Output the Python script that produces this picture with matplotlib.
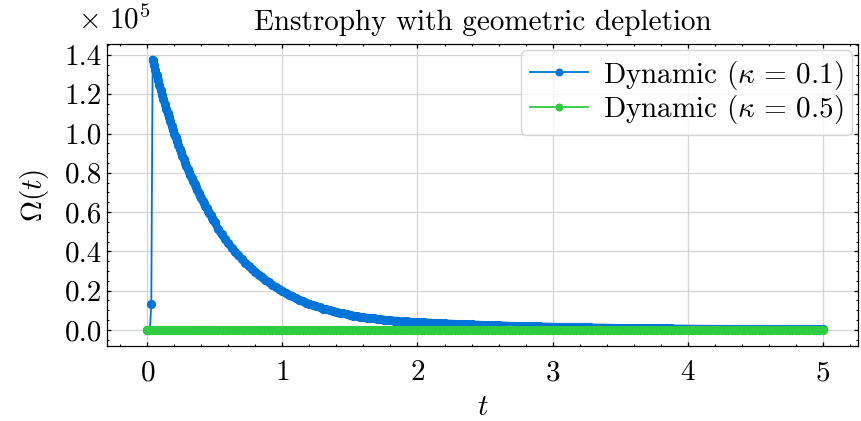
import matplotlib
matplotlib.use("Agg")
import matplotlib.pyplot as plt
import numpy as np

# enstrophy in units of 1e5, kappa = 0.1
# first part sampled every 0.01 (t = 0.00 ... 0.50)
omega_k01_a = [
    0.0, 0.0, 0.0, 0.133,
    1.377, 1.3497, 1.3230, 1.2968, 1.2711, 1.2460, 1.2213, 1.1971, 1.1734, 1.1502,
    1.1274, 1.1051, 1.0832, 1.0618, 1.0408, 1.0202, 1.0000, 0.9802, 0.9608, 0.9418,
    0.9231, 0.9048, 0.8869, 0.8694, 0.8522, 0.8353, 0.8188, 0.8025, 0.7867, 0.7711,
    0.7558, 0.7408, 0.7262, 0.7118, 0.6977, 0.6839, 0.6703, 0.6571, 0.6441, 0.6313,
    0.6188, 0.6066, 0.5946, 0.5828, 0.5712, 0.5599, 0.5488,
]
# then every 0.025 (t = 0.525 ... 5.000)
omega_k01_b = [
    0.5118, 0.4868, 0.4631, 0.4405, 0.4190, 0.3986, 0.3791, 0.3606, 0.3431, 0.3263,
    0.3104, 0.2953, 0.2809, 0.2672, 0.2542, 0.2418, 0.2300, 0.2188, 0.2081, 0.1980,
    0.1883, 0.1792, 0.1704, 0.1621, 0.1542, 0.1467, 0.1395, 0.1327, 0.1263, 0.1201,
    0.1143, 0.1087, 0.1040, 0.0996, 0.0953, 0.0912, 0.0873, 0.0836, 0.0800, 0.0766,
    0.0733, 0.0702, 0.0672, 0.0643, 0.0622, 0.0601, 0.0581, 0.0562, 0.0543, 0.0525,
    0.0508, 0.0491, 0.0478, 0.0466, 0.0454, 0.0442, 0.0431, 0.0419, 0.0409, 0.0398,
    0.0389, 0.0380, 0.0371, 0.0363, 0.0355, 0.0347, 0.0339, 0.0331, 0.0324, 0.0316,
    0.0309, 0.0302, 0.0295, 0.0289, 0.0282, 0.0276, 0.0270, 0.0263, 0.0257, 0.0252,
    0.0246, 0.0240, 0.0235, 0.0230, 0.0224, 0.0219, 0.0214, 0.0209, 0.0205, 0.0200,
    0.0196, 0.0191, 0.0187, 0.0183, 0.0178, 0.0174, 0.0170, 0.0167, 0.0163, 0.0159,
    0.0156, 0.0152, 0.0149, 0.0146, 0.0142, 0.0139, 0.0136, 0.0133, 0.0130, 0.0127,
    0.0124, 0.0122, 0.0119, 0.0116, 0.0114, 0.0111, 0.0109, 0.0106, 0.0104, 0.0102,
    0.0099, 0.0097, 0.0095, 0.0093, 0.0091, 0.0089, 0.0087, 0.0085, 0.0083, 0.0081,
    0.0079, 0.0078, 0.0076, 0.0074, 0.0073, 0.0071, 0.0069, 0.0068, 0.0066, 0.0065,
    0.0063, 0.0062, 0.0061, 0.0059, 0.0058, 0.0057, 0.0055, 0.0054, 0.0053, 0.0052,
    0.0050, 0.0049, 0.0048, 0.0047, 0.0046, 0.0045, 0.0044, 0.0043, 0.0042, 0.0041,
    0.0040, 0.0039, 0.0038, 0.0038, 0.0037, 0.0036, 0.0035, 0.0034, 0.0034, 0.0033,
    0.0032, 0.0031, 0.0031, 0.0030, 0.0029, 0.0029, 0.0028, 0.0027, 0.0027, 0.0026,
]
omega_scale = 1e5
peak_index = 4  # first sample of the decay

labels = [r"Dynamic ($\kappa\,=\,0.1$)", r"Dynamic ($\kappa\,=\,0.5$)"]
colors = ["#0074D9", "#2ECC40"]

# time grid of the solver output
dt_a, dt_b = 0.01, 0.025
t_a = dt_a * np.arange(len(omega_k01_a))
t_b = t_a[-1] + dt_b * np.arange(1, len(omega_k01_b) + 1)
t = np.concatenate([t_a, t_b])

omega_k01 = np.concatenate([omega_k01_a, omega_k01_b])
# kappa = 0.5 stays at zero on this scale
omega_k05 = np.array([0.0] * len(t))

FS = 21
plt.rcParams.update({
    "font.family": "serif",
    "font.serif": ["cmr10", "DejaVu Serif"],
    "mathtext.fontset": "cm",
    "axes.formatter.use_mathtext": True,
    "axes.unicode_minus": False,
    "font.size": FS,
    "xtick.direction": "in",
    "ytick.direction": "in",
    "xtick.top": True,
    "ytick.right": True,
    "xtick.minor.visible": True,
    "ytick.minor.visible": True,
    "xtick.major.size": 3.2,
    "ytick.major.size": 3.2,
    "xtick.minor.size": 1.7,
    "ytick.minor.size": 1.7,
    "xtick.major.width": 0.9,
    "ytick.major.width": 0.9,
    "xtick.minor.width": 0.8,
    "ytick.minor.width": 0.8,
    "xtick.major.pad": 10,
    "axes.linewidth": 0.9,
})

fig = plt.figure(figsize=(8.62, 4.21), dpi=100)
ax = fig.add_axes([106.7 / 862, 1 - 346 / 421, (858 - 106.7) / 862, (346 - 44) / 421])

ms = 5.6
# overlapping markers of the dense output form a solid band
ax.plot(t[peak_index:], omega_k01[peak_index:], color=colors[0], lw=ms,
        solid_capstyle="round", solid_joinstyle="round")
ax.plot(t, omega_k01, "-o", color=colors[0], ms=ms, lw=1.3, label=labels[0])
ax.plot(t, omega_k05, color=colors[1], lw=ms, solid_capstyle="round")
ax.plot(t, omega_k05, "-o", color=colors[1], ms=ms, lw=1.3, label=labels[1])

ax.set_xlim(-0.30, 5.26)
ax.set_ylim(-0.082, 1.456)
ax.set_xticks([0, 1, 2, 3, 4, 5])
ax.set_yticks(np.arange(0, 1.41, 0.2))
ax.yaxis.set_major_formatter(lambda v, pos: f"{v:.1f}")
ax.text(-0.038, 1.05, r"$\times\ 10^{%d}$" % round(np.log10(omega_scale)),
        transform=ax.transAxes, ha="left", va="baseline")
ax.grid(True, color="#d4d4d4", lw=0.9)
ax.set_axisbelow(True)

ax.set_xlabel(r"$t$", labelpad=6)
ax.set_ylabel(r"$\Omega(t)$", labelpad=10)
ax.set_title("Enstrophy with geometric depletion", fontsize=FS, pad=10)

leg = ax.legend(loc="upper right", fancybox=True, framealpha=0.8, edgecolor="#cccccc",
                borderaxespad=0.2, handletextpad=0.5, borderpad=0.3, labelspacing=0.05,
                markerscale=0.85)

fig.savefig("out.png", dpi=100)
